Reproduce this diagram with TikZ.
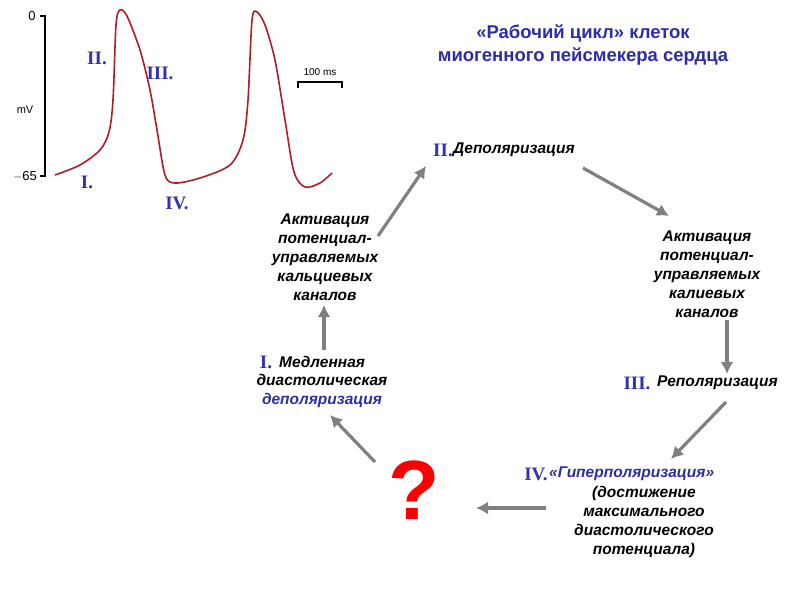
\documentclass[tikz,border=0pt]{standalone}
\usepackage{fontspec}
\setmainfont{Liberation Sans}
\newfontfamily\rom{Liberation Serif}
\definecolor{nblue}{RGB}{50,50,175}
\definecolor{tblue}{RGB}{45,45,170}
\definecolor{curve}{RGB}{175,30,40}
\definecolor{arr}{RGB}{128,128,128}
\begin{document}
\begin{tikzpicture}[x=1pt,y=-1pt,
  num/.style={font=\rom\bfseries\fontsize{19}{19}\selectfont,text=nblue,inner sep=0pt},
  lab/.style={font=\bfseries\itshape\fontsize{15.5}{19}\selectfont,align=center,inner sep=0pt},
  garrow/.style={draw=arr,line width=3.2pt,-{Latex[length=12pt,width=13pt]}}]
\usetikzlibrary{arrows.meta}
\useasboundingbox (0,0) rectangle (800,600);
\fill[white] (0,0) rectangle (800,600);
% graph
\draw[line width=1.2pt] (40,16)--(45,16)--(45,176)--(40,176);
\node (z) at (32,16) {\fontsize{13}{13}\selectfont 0};
\node (m) at (25,176) {\fontsize{13}{13}\selectfont $-$65};
\node (mv) at (25,110) {\fontsize{11}{11}\selectfont mV};
\draw[curve,line width=1.6pt] plot[smooth,tension=0.5] coordinates {(55,175) (80,165) (100,150) (109,132) (113,100) (116,25) (120,10) (127,16) (140,50) (150,90) (157,130) (165,175) (175,183) (200,178) (230,165) (243,140) (248,100) (252,20) (257,12) (265,25) (275,60) (285,120) (294,172) (305,187) (320,183) (332,173)};
\draw[line width=1.1pt] (298,88)--(298,82)--(342,82)--(342,88);
\node (sb) at (320,72) {\fontsize{10}{10}\selectfont 100 ms};
\node[num] (g2) at (97,58) {II.};
\node[num] (g3) at (160,73) {III.};
\node[num] (g1) at (87,182) {I.};
\node[num] (g4) at (177,203) {IV.};
% title
\node[font=\bfseries\fontsize{18.5}{23}\selectfont,text=tblue,align=center] (t) at (583,45) {«Рабочий цикл» клеток\\миогенного пейсмекера сердца};
% cycle
\node[num] (n2) at (443,150) {II.};
\node[lab,anchor=west] (dep) at (453,150) {Деполяризация};
\node[lab] (ca) at (325,257) {Активация\\потенциал-\\управляемых\\кальциевых\\каналов};
\node[lab] (k) at (707,274) {Активация\\потенциал-\\управляемых\\калиевых\\каналов};
\node[num] (n1) at (266,362) {I.};
\node[lab,anchor=west] (s1) at (279,362) {Медленная};
\node[lab] (s2) at (322,391) {диастолическая\\\textcolor{tblue}{деполяризация}};
\node[num] (n3) at (637,383) {III.};
\node[lab,anchor=west] (rep) at (657,383) {Реполяризация};
\node[num] (n4) at (536,474) {IV.};
\node[lab,anchor=west,text=tblue] (hyp) at (549,474) {«Гиперполяризация»};
\node[lab] (hyp2) at (644,522) {(достижение\\максимального\\диастолического\\потенциала)};
\node[text=red,font=\bfseries\fontsize{84}{84}\selectfont] (q) at (414,490) {?};
% arrows
\coordinate (a1s) at (324,350); \coordinate (a1e) at (324,305);
\coordinate (a2s) at (378,236); \coordinate (a2e) at (426,166);
\coordinate (a3s) at (583,168); \coordinate (a3e) at (669,216);
\coordinate (a4s) at (727,320); \coordinate (a4e) at (727,374);
\coordinate (a5s) at (726,402); \coordinate (a5e) at (671,459);
\coordinate (a6s) at (546,508); \coordinate (a6e) at (476,508);
\coordinate (a7s) at (375,462); \coordinate (a7e) at (330,415);
\foreach \i in {1,...,7}{\draw[garrow] (a\i s)--(a\i e);}
\end{tikzpicture}
\end{document}
